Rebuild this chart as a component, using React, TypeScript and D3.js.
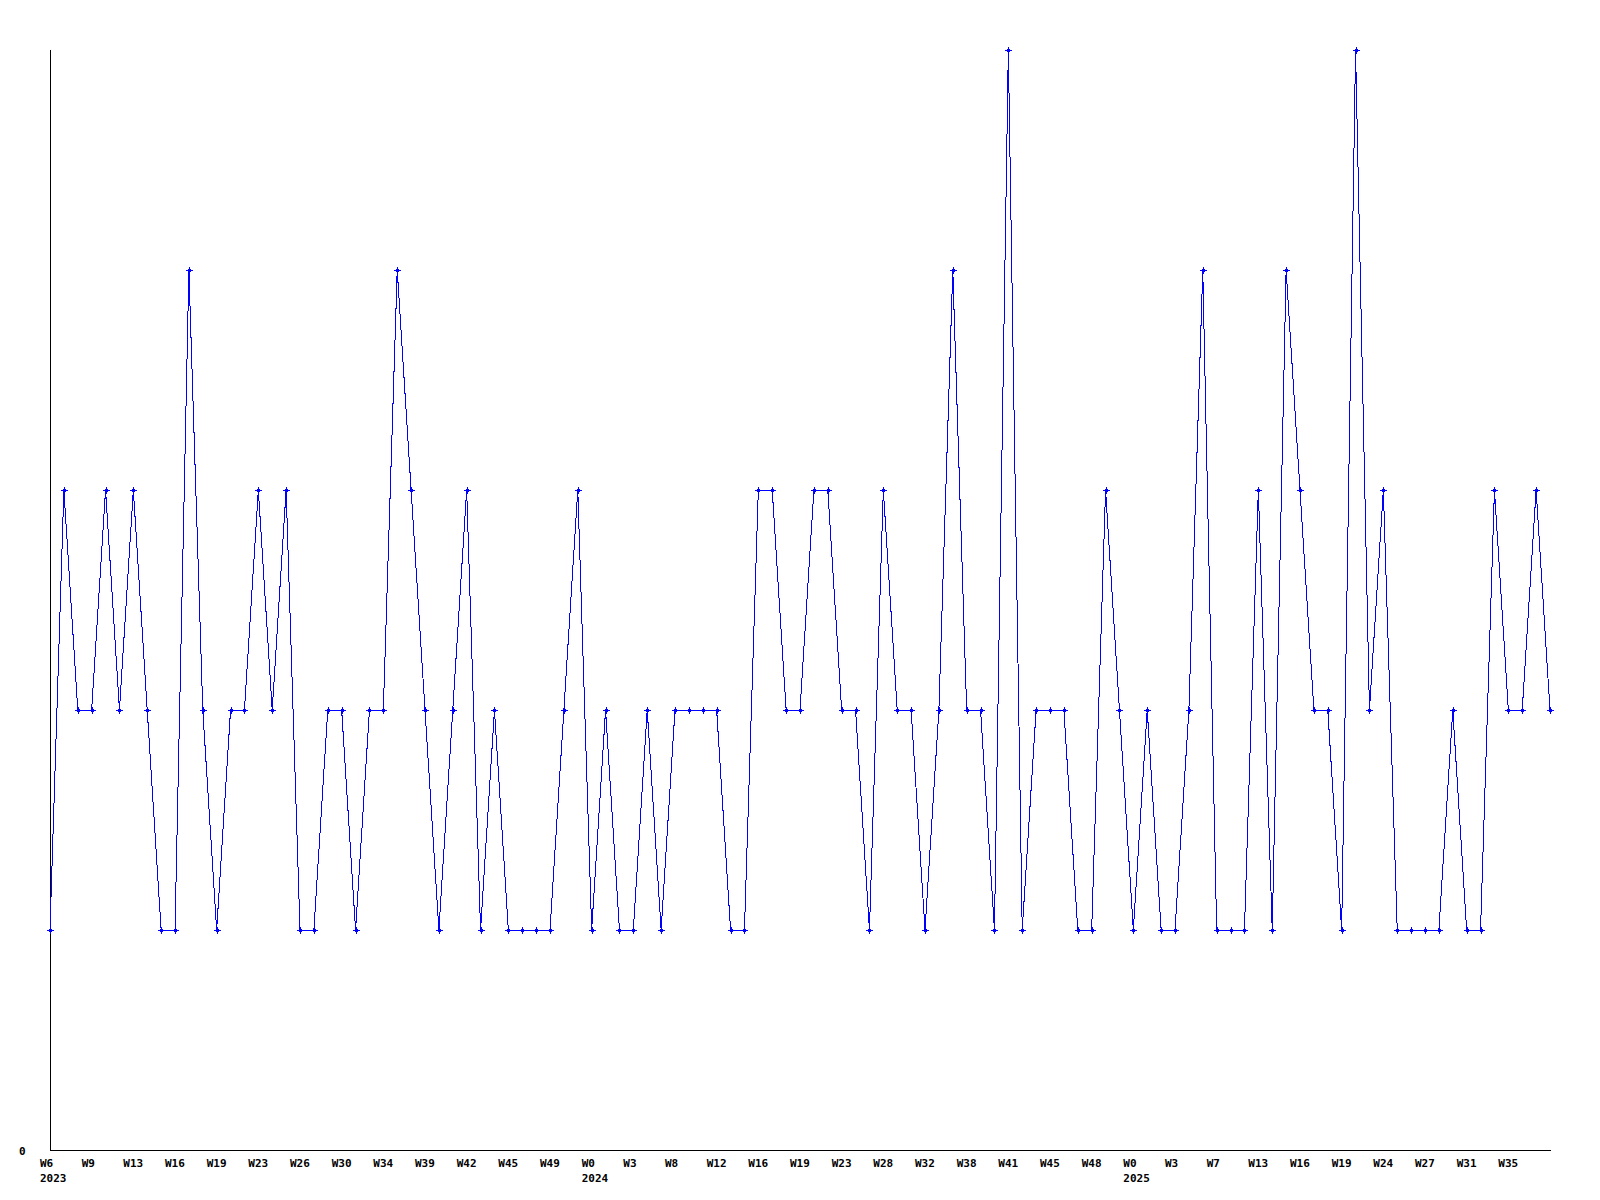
import React, { useEffect, useRef } from "react";
import * as d3 from "d3";

// weekly counts, one per plotted week (2023 W6 .. 2025)
const counts = [
  1, 3, 2, 2, 3, 2, 3, 2, 1, 1, 4, 2, 1, 2, 2, 3, 2, 3, 1, 1, 2, 2, 1,
  2, 2, 4, 3, 2, 1, 2, 3, 1, 2, 1, 1, 1, 1, 2, 3, 1, 2, 1, 1, 2, 1,
  2, 2, 2, 2, 1, 1, 3, 3, 2, 2, 3, 3, 2, 2, 1, 3, 2, 2, 1, 2, 4,
  2, 2, 1, 5, 1, 2, 2, 2, 1, 1, 3, 2, 1, 2, 1, 1, 2, 4, 1, 1, 1, 3,
  1, 4, 3, 2, 2, 1, 5, 2, 3, 1, 1, 1, 1, 2, 1, 1, 3, 2, 2, 3, 2,
];

// every third week gets a label
const weekLabels = [
  "W6", "W9", "W13", "W16", "W19", "W23", "W26", "W30", "W34", "W39", "W42", "W45",
  "W49", "W0", "W3", "W8", "W12", "W16", "W19", "W23", "W28", "W32", "W38", "W41",
  "W45", "W48", "W0", "W3", "W7", "W13", "W16", "W19", "W24", "W27", "W31", "W35",
];
const labelStep = 3;

const yearLabels = [
  { label: "2023", tick: 0 },
  { label: "2024", tick: 13 },
  { label: "2025", tick: 26 },
];

const yTicks = [0];

const App = () => {
  const ref = useRef(null);

  useEffect(() => {
    const width = 1600;
    const height = 1200;
    const margin = { top: 50, right: 50, bottom: 50, left: 50 };
    const font = "'DejaVu Sans Mono', monospace";

    const svg = d3.select(ref.current);
    svg.selectAll("*").remove();
    svg.attr("width", width).attr("height", height);

    svg.append("rect").attr("width", width).attr("height", height).attr("fill", "#fff");

    const x = d3
      .scaleLinear()
      .domain([0, counts.length - 1])
      .range([margin.left, width - margin.right]);

    const y = d3
      .scaleLinear()
      .domain([0, d3.max(counts)])
      .range([height - margin.bottom, margin.top]);

    const [x0, x1] = x.range();
    const [yb, yt] = y.range();

    // axes
    svg
      .append("line")
      .attr("x1", x0)
      .attr("x2", x0)
      .attr("y1", yt)
      .attr("y2", yb)
      .attr("stroke", "#000")
      .attr("shape-rendering", "crispEdges");

    svg
      .append("line")
      .attr("x1", x0)
      .attr("x2", x1 + 1)
      .attr("y1", yb + 0.5)
      .attr("y2", yb + 0.5)
      .attr("stroke", "#000")
      .attr("shape-rendering", "crispEdges");

    svg
      .selectAll(".ytick")
      .data(yTicks)
      .enter()
      .append("text")
      .attr("x", x0 - 31)
      .attr("y", (d) => y(d) + 5)
      .attr("font-family", font)
      .attr("font-weight", "bold")
      .attr("font-size", 11)
      .text((d) => d);

    svg
      .selectAll(".week")
      .data(weekLabels)
      .enter()
      .append("text")
      .attr("x", (d, i) => x(i * labelStep) - 10)
      .attr("y", yb + 17)
      .attr("font-family", font)
      .attr("font-weight", "bold")
      .attr("font-size", 11)
      .text((d) => d);

    svg
      .selectAll(".year")
      .data(yearLabels)
      .enter()
      .append("text")
      .attr("x", (d) => x(d.tick * labelStep) - 10)
      .attr("y", yb + 32)
      .attr("font-family", font)
      .attr("font-weight", "bold")
      .attr("font-size", 11)
      .text((d) => d.label);

    // line
    const line = d3
      .line()
      .x((d, i) => x(i))
      .y((d) => y(d));

    svg
      .append("path")
      .datum(counts)
      .attr("d", line)
      .attr("fill", "none")
      .attr("stroke", "#0000ff")
      .attr("stroke-width", 1)
      .attr("shape-rendering", "crispEdges");

    // small cross markers
    svg
      .selectAll(".pt")
      .data(counts)
      .enter()
      .append("path")
      .attr("transform", (d, i) => `translate(${Math.round(x(i))},${Math.round(y(d))})`)
      .attr("d", "M-3,0.5H4M0.5,-3V4M-0.5,-0.5h2v2h-2z")
      .attr("fill", "#0000ff")
      .attr("stroke", "#0000ff")
      .attr("stroke-width", 1)
      .attr("shape-rendering", "crispEdges");
  }, []);

  return (
    <svg
      ref={ref}
      style={{ position: "absolute", left: 0, top: 0, display: "block" }}
    ></svg>
  );
};

export default App;
